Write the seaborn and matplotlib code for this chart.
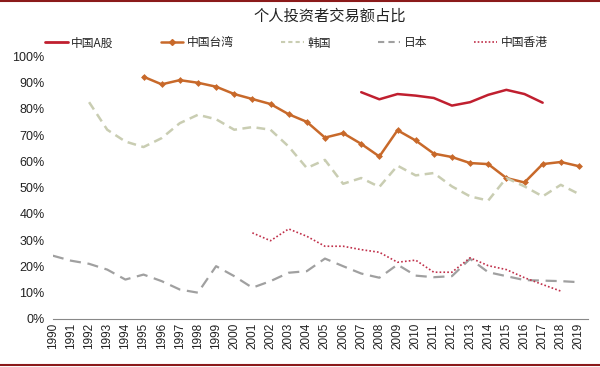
import numpy as np
import pandas as pd
import matplotlib
matplotlib.use('Agg')
import matplotlib.pyplot as plt
import seaborn as sns
from matplotlib.lines import Line2D

# dados (% do volume negociado por investidores individuais)
anos_a = list(range(2007, 2018))
china_a = [86.4, 83.7, 85.7, 85.1, 84.2, 81.3, 82.6, 85.4, 87.3, 85.7, 82.4]

anos_tw = list(range(1995, 2020))
taiwan = [92.3, 89.4, 91.0, 90.0, 88.5, 85.7, 83.8, 81.9, 78.0, 75.1, 69.1, 70.8,
          66.7, 61.9, 71.9, 68.0, 63.0, 61.7, 59.4, 59.0, 53.7, 52.0, 59.0, 59.8, 58.2]

anos_kr = list(range(1992, 2020))
coreia = [82.6, 72.1, 67.6, 65.5, 68.9, 74.6, 77.8, 76.1, 72.1, 73.1, 72.1, 65.7,
          57.5, 60.6, 51.5, 53.7, 50.3, 58.4, 54.7, 55.6, 50.5, 46.7, 45.1, 53.7,
          50.5, 46.7, 51.1, 47.6]

anos_jp = list(range(1990, 2020))
japao = [24.1, 22.2, 21.0, 18.8, 15.0, 16.9, 14.4, 11.2, 10.0, 20.1, 16.3, 11.9,
         14.4, 17.6, 18.2, 23.0, 20.1, 17.3, 15.7, 20.7, 16.5, 15.9, 16.3, 22.9,
         17.8, 16.3, 14.8, 14.6, 14.4, 14.0]

anos_hk = list(range(2001, 2019))
hongkong = [32.8, 29.8, 34.3, 31.5, 27.7, 27.7, 26.4, 25.4, 21.6, 22.4, 17.8, 17.8,
            23.3, 20.3, 18.8, 15.7, 13.1, 10.6]

nomes = ['中国A股', '中国台湾', '韩国', '日本', '中国香港']
cores = ['#C01F2F', '#C8692A', '#C9CDB2', '#A0A0A0', '#C0304A']

sns.set_style('white')
plt.rcParams['font.family'] = ['Noto Sans CJK SC', 'DejaVu Sans']

fig = plt.figure(figsize=(6, 3.67), dpi=100)
ax = fig.add_axes([0.088, 0.131, 0.892, 0.715])

sns.lineplot(x=anos_a, y=china_a, ax=ax, color=cores[0], linewidth=1.8)
sns.lineplot(x=anos_tw, y=taiwan, ax=ax, color=cores[1], linewidth=1.8,
             marker='D', markersize=3.5, markeredgewidth=0)
sns.lineplot(x=anos_kr, y=coreia, ax=ax, color=cores[2], linewidth=1.8,
             linestyle=(0, (3.5, 2.2)))
sns.lineplot(x=anos_jp, y=japao, ax=ax, color=cores[3], linewidth=1.6,
             linestyle=(0, (5, 3)))
sns.lineplot(x=anos_hk, y=hongkong, ax=ax, color=cores[4], linewidth=1.2,
             linestyle=(0, (1, 1.3)))

ax.set_xlim(1990, 2019.5)
ax.set_ylim(0, 100)
ax.set_xticks(anos_jp)
ax.set_xticklabels([str(a) for a in anos_jp], rotation=90, fontsize=8.5,
                   family='Liberation Sans', color='#222222')
ax.set_yticks(range(0, 101, 10))
ax.set_yticklabels([f'{v}%' for v in range(0, 101, 10)], fontsize=9,
                   family='Liberation Sans', color='#222222')
for s in ['top', 'right', 'left']:
    ax.spines[s].set_visible(False)
ax.spines['bottom'].set_color('#888888')
ax.spines['bottom'].set_linewidth(0.8)
ax.tick_params(axis='x', direction='in', length=3, color='#888888', pad=3)
ax.tick_params(axis='y', length=0, pad=6)

fig.text(0.549, 0.955, '个人投资者交易额占比', ha='center', va='center', fontsize=11,
         color='#222222')

handles = [
    Line2D([], [], color=cores[0], linewidth=2.0),
    Line2D([], [], color=cores[1], linewidth=1.8, marker='D', markersize=3),
    Line2D([], [], color=cores[2], linewidth=1.5, linestyle=(0, (2, 1.5))),
    Line2D([], [], color=cores[3], linewidth=1.5, linestyle=(0, (3, 2))),
    Line2D([], [], color=cores[4], linewidth=1.2, linestyle=(0, (1, 1.2))),
]
fig.legend(handles, nomes, loc='center', bbox_to_anchor=(0.494, 0.883), ncol=5,
           frameon=False, fontsize=8.5, handlelength=1.9, handletextpad=0.3,
           columnspacing=4.0, borderaxespad=0, borderpad=0)

# bordas superior e inferior
fig.add_artist(Line2D([0, 1], [0.996, 0.996], color='#8B1A1A', linewidth=1.5,
                      transform=fig.transFigure))
fig.add_artist(Line2D([0, 1], [0.005, 0.005], color='#8B1A1A', linewidth=1.5,
                      transform=fig.transFigure))

fig.savefig('out.png', dpi=100, facecolor='white')
